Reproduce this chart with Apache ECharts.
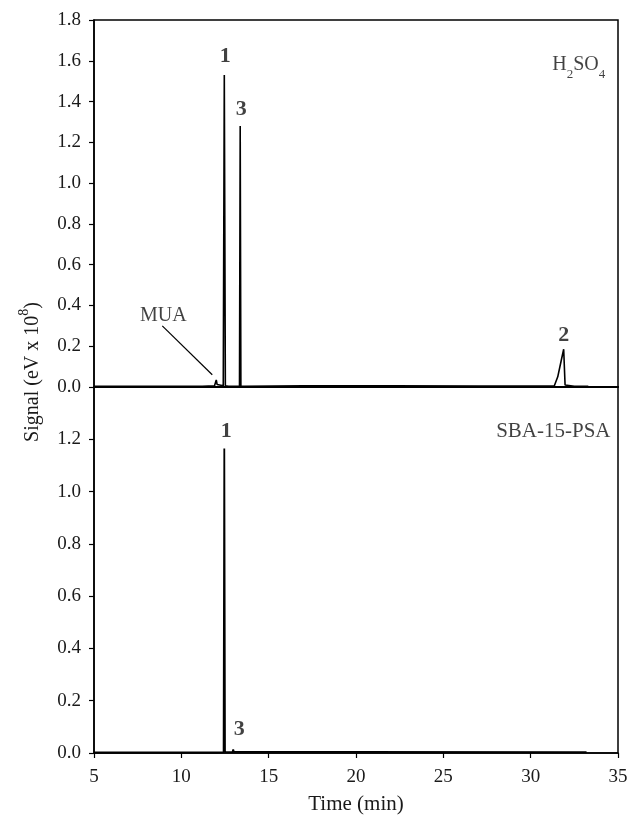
<!DOCTYPE html>
<html>
<head>
<meta charset="utf-8">
<script src="https://cdn.jsdelivr.net/npm/echarts@6/dist/echarts.min.js"></script>
<style>
  html, body { margin: 0; padding: 0; background: #fff; }
  #chart { width: 629px; height: 820px; }
</style>
</head>
<body>
<div id="chart"></div>
<script>
// H2SO4 chromatogram (time in min, signal in eV x 10^8)
const timeH2SO4 = [5.0, 8.0, 10.2, 10.25, 10.3, 11.2, 11.9, 12.0, 12.05, 12.12, 12.4, 12.46, 12.52, 12.7,
  13.33, 13.37, 13.41, 13.6, 17.0, 22.1, 22.15, 22.2, 27.0, 31.35, 31.55, 31.75, 31.89, 31.97, 32.05, 32.5, 33.3];
const signalH2SO4 = [0.003, 0.003, 0.004, 0.008, 0.004, 0.004, 0.006, 0.035, 0.012, 0.005, 0.006, 1.53, 0.006, 0.004,
  0.005, 1.28, 0.005, 0.004, 0.006, 0.006, 0.012, 0.006, 0.005, 0.005, 0.05, 0.13, 0.185, 0.01, 0.004, 0.004, 0.003];

// SBA-15-PSA chromatogram
const timeSBA = [5.0, 12.0, 12.42, 12.46, 12.5, 12.93, 12.97, 13.01, 20.0, 33.2];
const signalSBA = [0.002, 0.002, 0.003, 1.165, 0.004, 0.003, 0.013, 0.004, 0.004, 0.003];

// annotations [time, signal, text]
const peakLabelsTop = [[12.51, 1.62, '1'], [13.43, 1.36, '3'], [31.89, 0.255, '2']];
const peakLabelsBottom = [[12.57, 1.23, '1'], [13.31, 0.09, '3']];
const muaLabel = [[8.97, 0.35, 'MUA']];
const muaLeader = [[8.91, 0.30], [11.77, 0.06]];
const panelTitleTop = [[34.3, 1.565, '{n|H}{s|2}{n|SO}{s|4}']];
const panelTitleBottom = [[34.6, 1.23, 'SBA-15-PSA']];

const xTicks = [5, 10, 15, 20, 25, 30, 35];

const font = 'Liberation Serif';
const chart = echarts.init(document.getElementById('chart'));

const zip = (xs, ys) => xs.map((x, i) => [x, ys[i]]);

function yAxisFor(gridIndex, max) {
  return {
    type: 'value', gridIndex, min: 0, max, interval: 0.2,
    axisLine: { show: true, lineStyle: { color: '#000', width: 1.5 } },
    axisTick: { show: true, length: 5, lineStyle: { color: '#000', width: 1.2 } },
    axisLabel: {
      show: true, margin: 13, color: '#1a1a1a', fontFamily: font, fontSize: 19,
      showMaxLabel: gridIndex === 0,
      formatter: v => v.toFixed(1)
    },
    splitLine: { show: false }
  };
}

function textSeries(data, xi, opts) {
  return {
    type: 'scatter', xAxisIndex: xi, yAxisIndex: xi, data,
    symbolSize: 1, itemStyle: { color: 'rgba(0,0,0,0)' },
    silent: true, z: 5,
    label: Object.assign({
      show: true, position: 'inside', color: '#111', fontFamily: font,
      formatter: p => p.data[2]
    }, opts)
  };
}

const option = {
  animation: false,
  backgroundColor: '#fff',
  grid: [
    { left: 94, right: 11, top: 20, height: 367, show: true, borderColor: '#000', borderWidth: 1.5,
      outerBoundsMode: 'none', containLabel: false },
    { left: 94, right: 11, top: 387, height: 366, show: true, borderColor: '#000', borderWidth: 1.5,
      outerBoundsMode: 'none', containLabel: false }
  ],
  xAxis: [
    {
      type: 'value', gridIndex: 0, min: 5, max: 35, interval: 5,
      axisLine: { show: true, onZero: false, lineStyle: { color: '#000', width: 2 } },
      axisTick: { show: false }, axisLabel: { show: false }, splitLine: { show: false }
    },
    {
      type: 'value', gridIndex: 1, min: 5, max: 35, interval: 5,
      axisLine: { show: true, onZero: false, lineStyle: { color: '#000', width: 1.5 } },
      axisTick: { show: true, length: 5, lineStyle: { color: '#000', width: 1.2 } },
      axisLabel: {
        margin: 15, color: '#1a1a1a', fontFamily: font, fontSize: 19,
        customValues: xTicks
      },
      splitLine: { show: false },
      name: 'Time (min)', nameLocation: 'middle', nameGap: 41,
      nameTextStyle: { color: '#1a1a1a', fontFamily: font, fontSize: 21 }
    }
  ],
  yAxis: [yAxisFor(0, 1.8), yAxisFor(1, 1.4)],
  graphic: [{
    type: 'text', x: 30, y: 372, rotation: Math.PI / 2,
    style: {
      text: '{n|Signal (eV x 10}{sup|8}{n|)}',
      align: 'center', verticalAlign: 'middle',
      rich: {
        n: { fontFamily: font, fontSize: 20, fill: '#1a1a1a', lineHeight: 26, verticalAlign: 'bottom' },
        sup: { fontFamily: font, fontSize: 14, fill: '#1a1a1a', lineHeight: 26, verticalAlign: 'top' }
      }
    }
  }],
  series: [
    {
      type: 'line', xAxisIndex: 0, yAxisIndex: 0, data: zip(timeH2SO4, signalH2SO4),
      showSymbol: false, lineStyle: { color: '#000', width: 1.6 }, silent: true,
      markLine: {
        silent: true, symbol: 'none', animation: false,
        lineStyle: { color: '#000', width: 1.2, type: 'solid' },
        label: { show: false },
        data: [[{ coord: muaLeader[0] }, { coord: muaLeader[1] }]]
      }
    },
    {
      type: 'line', xAxisIndex: 1, yAxisIndex: 1, data: zip(timeSBA, signalSBA),
      showSymbol: false, lineStyle: { color: '#000', width: 1.8 }, silent: true
    },
    textSeries(peakLabelsTop, 0, { fontSize: 22, fontWeight: 'bold' }),
    textSeries(peakLabelsBottom, 1, { fontSize: 22, fontWeight: 'bold' }),
    textSeries(muaLabel, 0, { fontSize: 20 }),
    textSeries(panelTitleTop, 0, {
      position: 'left', distance: 0,
      rich: {
        n: { fontFamily: font, fontSize: 20, color: '#111', lineHeight: 26, verticalAlign: 'top' },
        s: { fontFamily: font, fontSize: 13, color: '#111', lineHeight: 26, verticalAlign: 'bottom' }
      }
    }),
    textSeries(panelTitleBottom, 1, { position: 'left', distance: 0, fontSize: 21 })
  ]
};

chart.setOption(option);
</script>
</body>
</html>
